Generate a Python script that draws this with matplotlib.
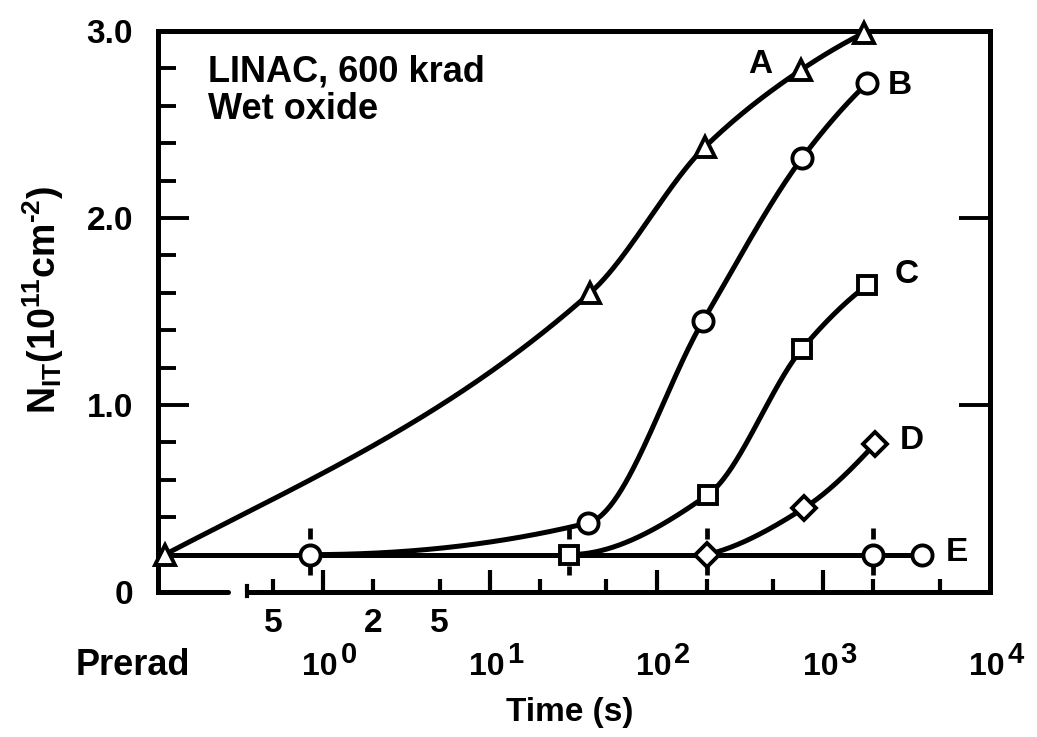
import numpy as np
import matplotlib
matplotlib.use('Agg')
import matplotlib.pyplot as plt

plt.rcParams['font.family'] = ['Liberation Sans', 'DejaVu Sans']
plt.rcParams['font.weight'] = 'bold'
plt.rcParams['mathtext.default'] = 'regular'

# Data. Time in seconds, 0 means the pre-irradiation value.
a_time = [0, 40, 195, 730, 1750]
a_nit = [0.20, 1.60, 2.38, 2.79, 2.99]

b_time = [0.84, 39, 190, 745, 1830]
b_nit = [0.20, 0.37, 1.45, 2.32, 2.72]

c_time = [30, 203, 745, 1830]
c_nit = [0.20, 0.52, 1.30, 1.64]

d_time = [200, 770, 2030]
d_nit = [0.20, 0.45, 0.79]

e_time = [0, 0.84, 30, 200, 2000, 3900]
e_nit = [0.20, 0.20, 0.20, 0.20, 0.20, 0.20]
e_markers = [None, 'o', 's', 'D', 'o', 'o']

# times where the dotted switch marks cross the E line
switch_time = [0.84, 30, 200, 2000]

decades = [0, 1, 2, 3, 4]
minor_time = [0.5, 2, 5, 20, 50, 200, 500, 2000, 5000]
minor_label_time = [0.5, 2, 5]
minor_label = ['5', '2', '5']

y_major = [0, 1, 2, 3]
y_major_label = ['0', '1.0', '2.0', '3.0']

# x axis is drawn in decades; prerad sits left of a break
PRERAD = -0.95
XMIN, XMAX = -0.99, 4.0
BREAK_L, BREAK_R = -0.57, -0.456


def pos(t):
    t = np.asarray(t, float)
    with np.errstate(divide='ignore'):
        return np.where(t > 0, np.log10(np.where(t > 0, t, 1)), PRERAD)


def smooth(x, y, n=300, straight_start=False):
    # monotone cubic (pchip) through the points, only for drawing the line
    x = np.asarray(x, float)
    y = np.asarray(y, float)
    h = np.diff(x)
    dl = np.diff(y) / h
    m = np.zeros_like(y)
    for k in range(1, len(x) - 1):
        if dl[k - 1] * dl[k] > 0:
            w1 = 2 * h[k] + h[k - 1]
            w2 = h[k] + 2 * h[k - 1]
            m[k] = (w1 + w2) / (w1 / dl[k - 1] + w2 / dl[k])

    def end(h0, h1, d0, d1):
        d = ((2 * h0 + h1) * d0 - h0 * d1) / (h0 + h1)
        if np.sign(d) != np.sign(d0):
            d = 0.0
        elif np.sign(d0) != np.sign(d1) and abs(d) > abs(3 * d0):
            d = 3 * d0
        return d

    if len(x) > 2:
        m[0] = end(h[0], h[1], dl[0], dl[1])
        m[-1] = end(h[-1], h[-2], dl[-1], dl[-2])
    else:
        m[:] = dl[0]
    if straight_start:
        m[0] = dl[0] * 0.85
    xs = np.linspace(x[0], x[-1], n)
    i = np.clip(np.searchsorted(x, xs) - 1, 0, len(h) - 1)
    t = (xs - x[i]) / h[i]
    ys = ((2 * t**3 - 3 * t**2 + 1) * y[i] + (t**3 - 2 * t**2 + t) * h[i] * m[i]
          + (-2 * t**3 + 3 * t**2) * y[i + 1] + (t**3 - t**2) * h[i] * m[i + 1])
    return xs, ys


fig = plt.figure(figsize=(10.37, 7.37), dpi=100)
ax = fig.add_axes([0.1524, 0.1967, 0.8023, 0.7612])

LW = 3.6
mk = dict(color='black', mfc='white', mec='black', mew=2.8, ls='none', zorder=4, clip_on=False)

# curves
xs, ys = smooth(pos(a_time), a_nit, straight_start=True)
ax.plot(xs, ys, color='black', lw=LW, zorder=2, solid_capstyle='round', clip_on=False)
for tt, vv in [(b_time, b_nit), (c_time, c_nit), (d_time, d_nit)]:
    xs, ys = smooth(pos(tt), vv)
    ax.plot(xs, ys, color='black', lw=LW, zorder=2, solid_capstyle='round', clip_on=False)
ax.plot(pos(e_time), e_nit, color='black', lw=LW, zorder=2)

# dotted switch marks above and below the E markers
ax.vlines(pos(switch_time), 0.285, 0.345, colors='black', lw=3.4, zorder=3)
ax.vlines(pos(switch_time), 0.09, 0.14, colors='black', lw=3.4, zorder=3)

# markers
ax.plot(pos(a_time), a_nit, marker='^', ms=15, **mk)
ax.plot(pos(b_time[1:]), b_nit[1:], marker='o', ms=14.5, **mk)
ax.plot(pos(c_time[1:]), c_nit[1:], marker='s', ms=12.5, **mk)
ax.plot(pos(d_time[1:]), d_nit[1:], marker='D', ms=12.5, **mk)
for t, v, m in zip(e_time, e_nit, e_markers):
    if m is None:
        continue
    ax.plot(pos([t]), [v], marker=m, ms=12.5 if m != 'o' else 14.5, **mk)

ax.set_xlim(XMIN, XMAX)
ax.set_ylim(0, 3.0)

# axis frame, bottom line broken
for s in ['left', 'right', 'top']:
    ax.spines[s].set_linewidth(3.6)
ax.spines['bottom'].set_visible(False)
ax.plot([XMIN, BREAK_L], [0, 0], color='black', lw=3.6, clip_on=False,
        solid_capstyle='round', zorder=5)
ax.plot([BREAK_R, XMAX], [0, 0], color='black', lw=3.6, clip_on=False,
        solid_capstyle='butt', zorder=5)
ax.plot([BREAK_R, BREAK_R], [-0.02, 0.03], color='black', lw=3, clip_on=False, zorder=5)

# ticks
ax.set_xticks(decades[:-1])
ax.set_xticks(pos(minor_time), minor=True)
ax.set_xticklabels([])
ax.set_xticklabels([], minor=True)
ax.tick_params(axis='x', which='major', direction='in', length=16, width=3,
               top=False, bottom=True)
ax.tick_params(axis='x', which='minor', direction='in', length=9.5, width=3,
               top=False, bottom=True)

ax.set_yticks(y_major)
ax.set_yticklabels(y_major_label)
ax.set_yticks(np.arange(0.2, 3.0, 0.2), minor=True)
ax.tick_params(axis='y', which='major', direction='in', length=22, width=2.8,
               left=True, right=True, labelsize=24, pad=18)
ax.tick_params(axis='y', which='minor', direction='in', length=13, width=2.8,
               left=True, right=False)

# x tick labels: 10^n with a large superscript
xtr = ax.get_xaxis_transform()
for d in decades:
    ax.annotate('10', xy=(d, 0), xycoords=xtr, xytext=(10.8, -60),
                textcoords='offset points', ha='right', va='baseline', fontsize=23)
    ax.annotate(str(d), xy=(d, 0), xycoords=xtr, xytext=(12.5, -51),
                textcoords='offset points', ha='left', va='baseline', fontsize=21)
for t, lab in zip(minor_label_time, minor_label):
    ax.annotate(lab, xy=(pos([t])[0], 0), xycoords=xtr, xytext=(0, -29),
                textcoords='offset points', ha='center', va='baseline', fontsize=24)

fig.text(0.128, 1 - 675 / 737, 'Prerad', ha='center', va='baseline', fontsize=26)
fig.text(0.5497, 1 - 712 / 737, 'Time (s)', ha='center', va='center', fontsize=24)
fig.text(0.042, 0.593, '$N_{IT}(10^{11}cm^{\u20102})$', rotation=90,
         ha='center', va='center', fontsize=27)

# annotations
ax.text(-0.69, 2.78, 'LINAC, 600 krad', ha='left', va='center', fontsize=26)
ax.text(-0.69, 2.58, 'Wet oxide', ha='left', va='center', fontsize=26)
for lab, x, y in [('A', 2.62, 2.82), ('B', 3.46, 2.71), ('C', 3.50, 1.70),
                  ('D', 3.53, 0.81), ('E', 3.80, 0.21)]:
    ax.text(x, y, lab, ha='center', va='center', fontsize=24)

fig.savefig('out.png', dpi=100)
